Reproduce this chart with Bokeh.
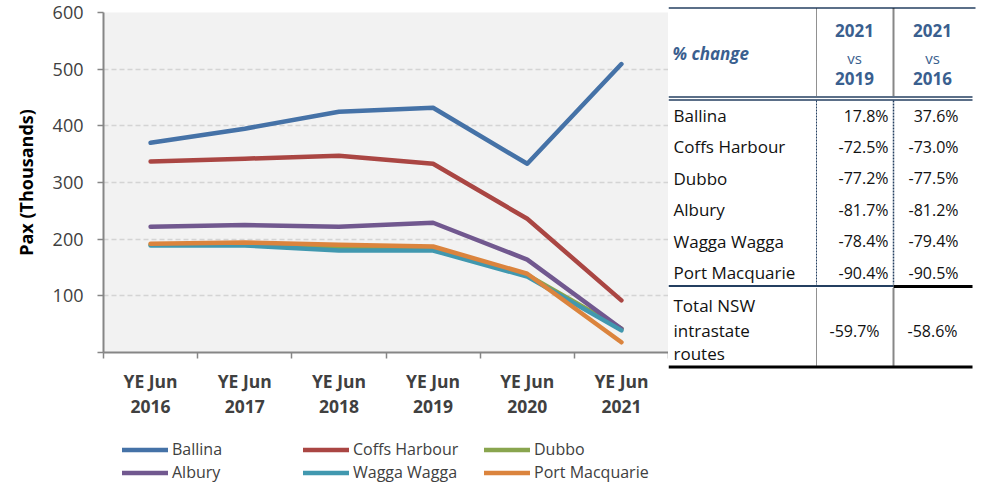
from bokeh.plotting import figure
from bokeh.models import Range1d, FixedTicker, Legend, LegendItem
from bokeh.layouts import row, column
from bokeh.embed import file_html
from bokeh.resources import INLINE
from bokeh.core.properties import value

# ---------------- data ----------------
periods = ["YE Jun\n2016", "YE Jun\n2017", "YE Jun\n2018", "YE Jun\n2019", "YE Jun\n2020", "YE Jun\n2021"]
ballina = [370, 395, 425, 432, 333, 509]
coffs_harbour = [337, 342, 347, 333, 236, 92]
dubbo = [190, 190, 186, 185, 137, 42]
albury = [222, 225, 222, 229, 164, 42]
wagga_wagga = [189, 189, 180, 180, 134, 39]
port_macquarie = [192, 194, 190, 187, 139, 18]
series_names = ["Ballina", "Coffs Harbour", "Dubbo", "Albury", "Wagga Wagga", "Port Macquarie"]
series_values = [ballina, coffs_harbour, dubbo, albury, wagga_wagga, port_macquarie]
series_colors = ["#4572a7", "#aa4643", "#89a54e", "#71588f", "#4198af", "#db843d"]
y_ticks = [0, 100, 200, 300, 400, 500, 600]

table_routes = ["Ballina", "Coffs Harbour", "Dubbo", "Albury", "Wagga Wagga", "Port Macquarie"]
change_vs_2019 = ["17.8%", "-72.5%", "-77.2%", "-81.7%", "-78.4%", "-90.4%"]
change_vs_2016 = ["37.6%", "-73.0%", "-77.5%", "-81.2%", "-79.4%", "-90.5%"]
total_label_lines = ["Total NSW", "intrastate", "routes"]
total_vs_2019 = "-59.7%"
total_vs_2016 = "-58.6%"
header_title = "% change"
header_col2 = ["2021", "vs", "2019"]
header_col3 = ["2021", "vs", "2016"]

FONT = "Open Sans"
AXIS_GRAY = "#868686"
TEXT_GRAY = "#404040"
NAVY = "#243f60"
HEAD_BLUE = "#3a5f8f"
TABLE_TEXT = "#111111"

CHART_W, CHART_H, LEG_H = 668, 432, 54

# ---------------- chart ----------------
p = figure(width=CHART_W, height=CHART_H, x_range=Range1d(0, len(periods)), y_range=Range1d(0, 600),
           output_backend="svg", toolbar_location=None,
           min_border_left=103, min_border_right=0, min_border_top=12, min_border_bottom=CHART_H - 352)
p.frame_align = False
p.border_fill_color = "white"
p.background_fill_color = "#f2f2f2"
p.outline_line_color = None

xs = [i + 0.5 for i in range(len(periods))]
for name, vals, col in zip(series_names, series_values, series_colors):
    p.line(xs, vals, line_color=col, line_width=4.5, line_join="round", line_cap="round")

# x axis
p.xaxis.ticker = FixedTicker(ticks=xs, minor_ticks=list(range(len(periods) + 1)))
p.xaxis.major_label_overrides = {x: lab for x, lab in zip(xs, periods)}
p.xaxis.major_tick_out = 0
p.xaxis.major_tick_in = 0
p.xaxis.minor_tick_out = 6
p.xaxis.minor_tick_in = 0
p.xaxis.minor_tick_line_color = AXIS_GRAY
p.xaxis.minor_tick_line_width = 1.5
p.xaxis.axis_line_color = AXIS_GRAY
p.xaxis.axis_line_width = 2
p.xaxis.major_label_text_font = FONT
p.xaxis.major_label_text_font_style = "bold"
p.xaxis.major_label_text_font_size = "17.5px"
p.xaxis.major_label_text_color = TEXT_GRAY
p.xaxis.major_label_text_line_height = 1.05
p.xaxis.major_label_standoff = 10

# y axis
p.yaxis.ticker = FixedTicker(ticks=y_ticks, minor_ticks=[])
p.yaxis.major_label_overrides = {0: ""}
p.yaxis.major_tick_out = 6
p.yaxis.major_tick_in = 0
p.yaxis.major_tick_line_color = AXIS_GRAY
p.yaxis.major_tick_line_width = 1.5
p.yaxis.axis_line_color = AXIS_GRAY
p.yaxis.axis_line_width = 2
p.yaxis.major_label_text_font = FONT
p.yaxis.major_label_text_font_size = "18px"
p.yaxis.major_label_text_color = TEXT_GRAY
p.yaxis.major_label_standoff = 14
p.yaxis.axis_label = "Pax (Thousands)"
p.yaxis.axis_label_text_font = FONT
p.yaxis.axis_label_text_font_style = "bold"
p.yaxis.axis_label_text_font_size = "18px"
p.yaxis.axis_label_text_color = "black"
p.yaxis.axis_label_standoff = 12

p.xgrid.visible = False
p.ygrid.ticker = FixedTicker(ticks=y_ticks[1:])
p.ygrid.grid_line_color = "#d4d4d4"
p.ygrid.grid_line_width = 1.5
p.ygrid.grid_line_dash = "5 3"

# ---------------- legend strip (below the chart) ----------------
# same series drawn again, but outside this strip's visible range: only the legend shows
lf = figure(width=CHART_W, height=LEG_H, x_range=Range1d(0, CHART_W), y_range=Range1d(-LEG_H, 0),
            output_backend="svg", toolbar_location=None, min_border=0)
lf.frame_align = False
lf.axis.visible = False
lf.grid.visible = False
lf.outline_line_color = None
lf.background_fill_color = "white"
lf.border_fill_color = "white"
leg_items = []
for name, vals, col in zip(series_names, series_values, series_colors):
    r = lf.line(xs, vals, line_color=col, line_width=4.5, line_cap="round")
    leg_items.append(LegendItem(label=name, renderers=[r]))
legend = Legend(items=leg_items, location=(122, 3), orientation="horizontal", ncols=3,
                glyph_width=46, glyph_height=19, label_height=19, label_width=130,
                label_standoff=4, spacing=1, padding=0, margin=0,
                border_line_color=None, background_fill_alpha=0,
                label_text_font=FONT, label_text_font_size="16px", label_text_color=TEXT_GRAY)
lf.add_layout(legend)

# ---------------- table (coordinates in page pixels) ----------------
X0, X1, H = 668, 982, 486
t = figure(width=X1 - X0, height=H, x_range=Range1d(X0, X1), y_range=Range1d(H, 0),
           output_backend="svg", toolbar_location=None, min_border=0)
t.frame_align = False
t.axis.visible = False
t.grid.visible = False
t.outline_line_color = None
t.background_fill_color = "white"
t.border_fill_color = "white"

c1x, c2x, right = 816, 893, 972
col2_center = 854
col3_center = 932

# header
t.text(x=[672], y=[53], text=[header_title], text_font=value(FONT), text_font_style="bold italic",
       text_font_size="17px", text_color=HEAD_BLUE, text_baseline="middle", text_align="left")
hy = [30, 57, 78]
for cx, lines in ((col2_center, header_col2), (col3_center, header_col3)):
    t.text(x=[cx, cx], y=[hy[0], hy[2]], text=[lines[0], lines[2]], text_font=value(FONT),
           text_font_style="bold", text_font_size="17px", text_color=HEAD_BLUE,
           text_baseline="middle", text_align="center")
    t.text(x=[cx], y=[hy[1]], text=[lines[1]], text_font=value(FONT),
           text_font_size="15px", text_color=HEAD_BLUE, text_baseline="middle", text_align="center")

# rules
t.line([X0, 975], [7.5, 7.5], line_color=NAVY, line_width=1.5)
t.line([X0, right], [96.5, 96.5], line_color=NAVY, line_width=1.3)
t.line([X0, right], [99.5, 99.5], line_color=NAVY, line_width=1.3)
t.line([X0, c2x], [285.5, 285.5], line_color=NAVY, line_width=2.2)
t.line([c2x, right], [286, 286], line_color="black", line_width=3)
t.line([X0, right], [366.5, 366.5], line_color="black", line_width=3)
# vertical separators
t.line([c1x, c1x], [8, 96], line_color="#222222", line_width=1, line_dash="1 1")
t.line([c2x, c2x], [8, 96], line_color="#111111", line_width=2, line_dash="1 1")
t.line([c1x, c1x], [100, 284], line_color=NAVY, line_width=1, line_dash="2 1")
t.line([c2x, c2x], [100, 284], line_color=NAVY, line_width=1.5, line_dash="2 1")
t.line([c1x, c1x], [288, 365], line_color="#222222", line_width=1, line_dash="1 1")
t.line([c2x, c2x], [288, 365], line_color="#111111", line_width=2, line_dash="1 1")

row_y = [115 + 31.4 * i for i in range(len(table_routes))]
t.text(x=[673] * len(table_routes), y=row_y, text=table_routes, text_font=value(FONT),
       text_font_size="17px", text_color=TABLE_TEXT, text_baseline="middle", text_align="left")
t.text(x=[888] * len(table_routes), y=row_y, text=change_vs_2019, text_font=value(FONT),
       text_font_size="16px", text_color=TABLE_TEXT, text_baseline="middle", text_align="right")
t.text(x=[958] * len(table_routes), y=row_y, text=change_vs_2016, text_font=value(FONT),
       text_font_size="16px", text_color=TABLE_TEXT, text_baseline="middle", text_align="right")

tot_y = [305, 330, 353]
t.text(x=[673] * 3, y=tot_y, text=total_label_lines, text_font=value(FONT),
       text_font_size="17px", text_color=TABLE_TEXT, text_baseline="middle", text_align="left")
t.text(x=[col2_center, col3_center], y=[tot_y[1], tot_y[1]], text=[total_vs_2019, total_vs_2016],
       text_font=value(FONT), text_font_size="16px", text_color=TABLE_TEXT,
       text_baseline="middle", text_align="center")

layout = row(column(p, lf, spacing=0), t, spacing=0)
open("out.html", "w").write(file_html(layout, INLINE))
